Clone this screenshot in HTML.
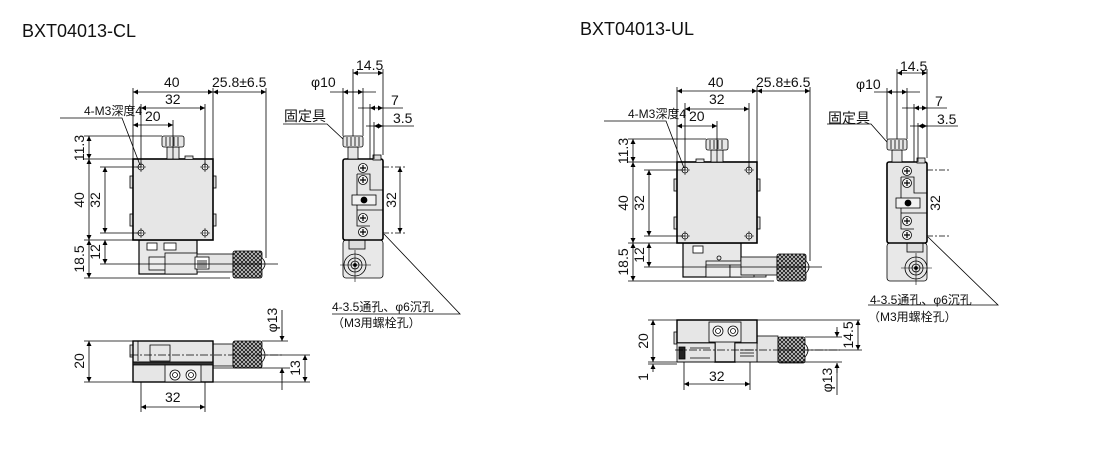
<!DOCTYPE html>
<html><head><meta charset="utf-8"><style>
html,body{margin:0;padding:0;background:#fff;}
svg{display:block;}
text{font-family:"Liberation Sans","Noto Sans CJK JP",sans-serif;fill:#111;}
.d{font-size:14px;}
.t{font-size:18px;}
</style></head><body>
<svg width="1101" height="476" viewBox="0 0 1101 476" xmlns="http://www.w3.org/2000/svg">
<defs>
<marker id="a" viewBox="0 0 10 10" refX="10" refY="5" markerWidth="7" markerHeight="5" orient="auto-start-reverse" markerUnits="userSpaceOnUse"><path d="M0,0 L10,5 L0,10z" fill="#000"/></marker>
<pattern id="k" width="4" height="4" patternUnits="userSpaceOnUse"><rect width="4" height="4" fill="#ddd"/><path d="M0,0L4,4M4,0L0,4" stroke="#222" stroke-width="1"/></pattern>
</defs>
<text class="t" x="22" y="37">BXT04013-CL</text>
<text class="t" x="580" y="35">BXT04013-UL</text>

<g id="L" stroke="#000" fill="none" stroke-width="0.8">
 <rect x="139" y="240" width="58" height="34" fill="#e8e8e8" stroke-width="1.2"/>
 <rect x="147" y="243" width="10" height="7" fill="#fff"/><rect x="164" y="243" width="12" height="7" fill="#fff"/>
 <rect x="149" y="257" width="21" height="13" fill="#eee"/>
 <rect x="165" y="253" width="32" height="21" fill="#e8e8e8"/>
 <rect x="197" y="254" width="36" height="18" fill="#e4e4e4"/>
 <rect x="195" y="257" width="14" height="12" fill="#fff"/>
 <path d="M198,260v8M200,260v8M202,260v8M204,260v8M206,260v8" />
 <rect x="233" y="251" width="29" height="27" fill="url(#k)" rx="2"/>
 <path d="M262,258 q6,6 0,12" fill="#eee"/>
 <rect x="130" y="176" width="4" height="12" fill="#ddd"/><rect x="130" y="214" width="4" height="12" fill="#ddd"/>
 <rect x="212" y="176" width="4" height="12" fill="#ddd"/><rect x="212" y="214" width="4" height="12" fill="#ddd"/>
 <rect x="133" y="159" width="80" height="81" fill="#e6e6e6" stroke-width="1.6"/>
 <rect x="167" y="147" width="12" height="12" fill="#e6e6e6"/>
 <rect x="162" y="136" width="22" height="11" rx="2" fill="#e6e6e6"/>
 <path d="M166,137v9M170,137v9M174,137v9M178,137v9"/>
 <path d="M185,159 v-3 h8 v3" fill="#ddd"/>
 <g fill="#fff"><circle cx="141" cy="167" r="3"/><circle cx="205" cy="167" r="3"/><circle cx="141" cy="233" r="3"/><circle cx="205" cy="233" r="3"/></g>
 <path d="M136,167h10M141,162v10M200,167h10M205,162v10M136,233h10M141,228v10M200,233h10M205,228v10" stroke-width="0.6"/>
 <path d="M133,159V88M213,159V88M266,258V88M141,167V104M205,167V104M173,159V120"/>
 <line x1="133" y1="92" x2="213" y2="92" marker-start="url(#a)" marker-end="url(#a)"/>
 <line x1="213" y1="92" x2="266" y2="92" marker-start="url(#a)" marker-end="url(#a)"/>
 <line x1="141" y1="108" x2="205" y2="108" marker-start="url(#a)" marker-end="url(#a)"/>
 <line x1="133" y1="125" x2="173" y2="125" marker-start="url(#a)" marker-end="url(#a)"/>
 <path d="M84,136H162M84,159H133M84,240H133M100,167H141M100,233H141M84,278H230M100,264H150M140,264H278"/>
 <line x1="89" y1="136" x2="89" y2="159" marker-start="url(#a)" marker-end="url(#a)"/>
 <line x1="89" y1="159" x2="89" y2="240" marker-start="url(#a)" marker-end="url(#a)"/>
 <line x1="89" y1="240" x2="89" y2="278" marker-start="url(#a)" marker-end="url(#a)"/>
 <line x1="105" y1="167" x2="105" y2="233" marker-start="url(#a)" marker-end="url(#a)"/>
 <line x1="105" y1="240" x2="105" y2="264" marker-start="url(#a)" marker-end="url(#a)"/>
 <path d="M60,118H122L140,165"/>
 <rect x="343" y="240" width="40" height="38" rx="3" fill="#e8e8e8"/>
 <rect x="349" y="240" width="16" height="9" fill="#ddd"/>
 <circle cx="355" cy="265" r="11" fill="#e6e6e6"/><circle cx="355" cy="265" r="7"/><circle cx="355" cy="265" r="4"/><circle cx="355" cy="265" r="1.5" fill="#000"/>
 <path d="M340,265H371M355,250V282" stroke-width="0.6"/>
 <rect x="343" y="159" width="40" height="81" rx="2" fill="#e6e6e6" stroke-width="1.6"/>
 <path d="M357,174H370V190H383M357,174V210H383M357,210V226H370" />
 <rect x="352" y="195" width="24" height="10" fill="#f2f2f2"/><circle cx="364" cy="200" r="3" fill="#000"/>
 <g fill="#f4f4f4"><circle cx="363" cy="168" r="4.5"/><circle cx="363" cy="180" r="4.5"/><circle cx="363" cy="218" r="4.5"/><circle cx="363" cy="232" r="4.5"/></g>
 <path d="M360,168h6M363,165v6M360,180h6M363,177v6M360,218h6M363,215v6M360,232h6M363,229v6" stroke-width="1.2"/>
 <rect x="373" y="155" width="8" height="5" fill="#ddd"/>
 <rect x="348" y="147" width="10" height="12" fill="#e6e6e6"/>
 <rect x="343" y="136" width="20" height="11" rx="2" fill="#e6e6e6"/>
 <path d="M347,137v9M351,137v9M355,137v9M359,137v9"/>
 <path d="M383,167h24M383,233h24" stroke-dasharray="6 2 2 2"/>
 <line x1="400" y1="167" x2="400" y2="233" marker-start="url(#a)" marker-end="url(#a)"/>
 <path d="M353,136V69M383,155V69M343,136V88M363,136V88M370,159V104M374,159V122"/>
 <line x1="353" y1="73" x2="383" y2="73" marker-start="url(#a)" marker-end="url(#a)"/>
 <path d="M330,92H376"/><line x1="343" y1="92" x2="363" y2="92" marker-start="url(#a)" marker-end="url(#a)"/>
 <path d="M358,108H403"/><line x1="370" y1="108" x2="383" y2="108" marker-start="url(#a)" marker-end="url(#a)"/>
 <path d="M366,126H414"/><line x1="374" y1="126" x2="383" y2="126" marker-start="url(#a)" marker-end="url(#a)"/>
 <path d="M283,124H327L343,139"/>
 <path d="M384,234L460,314H332"/>
 <rect x="130" y="345" width="4" height="12" fill="#ddd"/>
 <rect x="213" y="344" width="20" height="22" fill="#e4e4e4"/>
 <rect x="233" y="341" width="29" height="27" rx="2" fill="url(#k)"/>
 <path d="M262,348 q6,7 0,14" fill="#eee"/>
 <rect x="133" y="341" width="80" height="41" fill="#e6e6e6" stroke-width="1.4"/>
 <path d="M138,341V361M150,345h20v16h-20zM133,362H213" />
 <rect x="133" y="362" width="80" height="3" fill="#333"/>
 <rect x="165" y="365" width="36" height="17" fill="#eee"/>
 <circle cx="175" cy="375" r="5" fill="#fff"/><circle cx="175" cy="375" r="2.5"/>
 <circle cx="191" cy="375" r="5" fill="#fff"/><circle cx="191" cy="375" r="2.5"/>
 <path d="M130,355H282" stroke-dasharray="8 2 2 2"/>
 <path d="M84,341H133M84,382H310M213,368H290M262,355H310M262,341H288M141,382V412M205,382V412M282,310V341M282,368V390" />
 <line x1="89" y1="341" x2="89" y2="382" marker-start="url(#a)" marker-end="url(#a)"/>
 <line x1="141" y1="407" x2="205" y2="407" marker-start="url(#a)" marker-end="url(#a)"/>
 <line x1="282" y1="330" x2="282" y2="341" marker-end="url(#a)"/>
 <line x1="282" y1="380" x2="282" y2="368" marker-end="url(#a)"/>
 <line x1="305" y1="355" x2="305" y2="382" marker-start="url(#a)" marker-end="url(#a)"/>
</g>
<g class="d">
 <text x="164" y="87">40</text><text x="212" y="87">25.8±6.5</text>
 <text x="165" y="104">32</text><text x="145" y="121">20</text>
 <text x="84" y="115" font-size="12">4-M3深度4</text>
 <text transform="translate(84,148) rotate(-90)" text-anchor="middle">11.3</text>
 <text transform="translate(84,200) rotate(-90)" text-anchor="middle">40</text>
 <text transform="translate(100,200) rotate(-90)" text-anchor="middle">32</text>
 <text transform="translate(84,259) rotate(-90)" text-anchor="middle">18.5</text>
 <text transform="translate(100,252) rotate(-90)" text-anchor="middle">12</text>
 <text x="356" y="70">14.5</text><text x="311" y="87">φ10</text>
 <text x="391" y="105">7</text><text x="393" y="123">3.5</text>
 <text x="284" y="121">固定具</text>
 <text transform="translate(396,200) rotate(-90)" text-anchor="middle">32</text>
 <text x="332" y="311" font-size="12">4-3.5通孔、φ6沉孔</text>
 <text x="332" y="327" font-size="12">（M3用螺栓孔）</text>
 <text transform="translate(84,361) rotate(-90)" text-anchor="middle">20</text>
 <text x="165" y="402">32</text>
 <text transform="translate(277,320) rotate(-90)" text-anchor="middle">φ13</text>
 <text transform="translate(300,368) rotate(-90)" text-anchor="middle">13</text>
</g>

<g stroke="#000" fill="none" stroke-width="0.8" transform="translate(544,3)">
 <rect x="139" y="240" width="58" height="34" fill="#e8e8e8" stroke-width="1.2"/>
 <rect x="149" y="243" width="10" height="7" fill="#fff"/>
 <rect x="162" y="258" width="60" height="16" fill="#e8e8e8"/>
 <rect x="162" y="262" width="24" height="12" fill="#eee"/><rect x="186" y="262" width="24" height="12" fill="#eee"/>
 <circle cx="175" cy="255" r="2"/>
 <rect x="197" y="254" width="36" height="18" fill="#e4e4e4"/>
 <rect x="233" y="251" width="29" height="27" fill="url(#k)" rx="2"/>
 <path d="M262,258 q6,6 0,12" fill="#eee"/>
 <rect x="130" y="176" width="4" height="12" fill="#ddd"/><rect x="130" y="214" width="4" height="12" fill="#ddd"/>
 <rect x="212" y="176" width="4" height="12" fill="#ddd"/><rect x="212" y="214" width="4" height="12" fill="#ddd"/>
 <rect x="133" y="159" width="80" height="81" fill="#e6e6e6" stroke-width="1.6"/>
 <rect x="167" y="147" width="12" height="12" fill="#e6e6e6"/>
 <rect x="162" y="136" width="22" height="11" rx="2" fill="#e6e6e6"/>
 <path d="M166,137v9M170,137v9M174,137v9M178,137v9"/>
 <path d="M152,159 v-3 h8 v3" fill="#ddd"/>
 <g fill="#fff"><circle cx="141" cy="167" r="3"/><circle cx="205" cy="167" r="3"/><circle cx="141" cy="233" r="3"/><circle cx="205" cy="233" r="3"/></g>
 <path d="M136,167h10M141,162v10M200,167h10M205,162v10M136,233h10M141,228v10M200,233h10M205,228v10" stroke-width="0.6"/>
 <path d="M133,159V84M213,159V84M266,258V84M141,167V100M205,167V100M173,159V118"/>
 <line x1="133" y1="88" x2="213" y2="88" marker-start="url(#a)" marker-end="url(#a)"/>
 <line x1="213" y1="88" x2="266" y2="88" marker-start="url(#a)" marker-end="url(#a)"/>
 <line x1="141" y1="106" x2="205" y2="106" marker-start="url(#a)" marker-end="url(#a)"/>
 <line x1="133" y1="123" x2="173" y2="123" marker-start="url(#a)" marker-end="url(#a)"/>
 <path d="M84,136H162M84,159H133M84,240H133M100,167H141M100,233H141M84,278H230M100,264H150M140,264H278"/>
 <line x1="89" y1="136" x2="89" y2="159" marker-start="url(#a)" marker-end="url(#a)"/>
 <line x1="89" y1="159" x2="89" y2="240" marker-start="url(#a)" marker-end="url(#a)"/>
 <line x1="89" y1="240" x2="89" y2="278" marker-start="url(#a)" marker-end="url(#a)"/>
 <line x1="105" y1="167" x2="105" y2="233" marker-start="url(#a)" marker-end="url(#a)"/>
 <line x1="105" y1="240" x2="105" y2="264" marker-start="url(#a)" marker-end="url(#a)"/>
 <path d="M60,118H122L140,165"/>
 <rect x="343" y="240" width="40" height="38" rx="3" fill="#e8e8e8"/>
 <rect x="363" y="240" width="16" height="9" fill="#ddd"/>
 <circle cx="372" cy="265" r="11" fill="#e6e6e6"/><circle cx="372" cy="265" r="7"/><circle cx="372" cy="265" r="4"/><circle cx="372" cy="265" r="1.5" fill="#000"/>
 <path d="M357,265H388M372,250V282" stroke-width="0.6"/>
 <rect x="343" y="159" width="40" height="81" rx="2" fill="#e6e6e6" stroke-width="1.6"/>
 <path d="M357,174H370V190H383M357,174V210H383M357,210V226H370" />
 <rect x="352" y="195" width="24" height="10" fill="#f2f2f2"/><circle cx="364" cy="200" r="3" fill="#000"/>
 <g fill="#f4f4f4"><circle cx="363" cy="168" r="4.5"/><circle cx="363" cy="180" r="4.5"/><circle cx="363" cy="218" r="4.5"/><circle cx="363" cy="232" r="4.5"/></g>
 <path d="M360,168h6M363,165v6M360,180h6M363,177v6M360,218h6M363,215v6M360,232h6M363,229v6" stroke-width="1.2"/>
 <rect x="373" y="155" width="8" height="5" fill="#ddd"/>
 <rect x="348" y="147" width="10" height="12" fill="#e6e6e6"/>
 <rect x="343" y="136" width="20" height="11" rx="2" fill="#e6e6e6"/>
 <path d="M347,137v9M351,137v9M355,137v9M359,137v9"/>
 <path d="M383,167h24M383,233h24" stroke-dasharray="6 2 2 2"/>
 <path d="M353,136V66M383,155V66M343,136V85M363,136V85M370,159V101M374,159V120"/>
 <line x1="353" y1="70" x2="383" y2="70" marker-start="url(#a)" marker-end="url(#a)"/>
 <path d="M330,89H376"/><line x1="343" y1="89" x2="363" y2="89" marker-start="url(#a)" marker-end="url(#a)"/>
 <path d="M358,105H403"/><line x1="370" y1="105" x2="383" y2="105" marker-start="url(#a)" marker-end="url(#a)"/>
 <path d="M366,123H414"/><line x1="374" y1="123" x2="383" y2="123" marker-start="url(#a)" marker-end="url(#a)"/>
 <path d="M283,121H327L343,139"/>
 <path d="M384,234L454,302H324"/>
</g>
<g stroke="#000" fill="none" stroke-width="0.8">
 <rect x="674" y="332" width="4" height="12" fill="#ddd"/>
 <rect x="757" y="336" width="21" height="26" fill="#e4e4e4"/>
 <rect x="778" y="337" width="27" height="26" rx="2" fill="url(#k)"/>
 <path d="M805,344 q6,6 0,13" fill="#eee"/>
 <path d="M677,320H757V343H735V362H715V343H677Z" fill="#e6e6e6" stroke-width="1.4"/>
 <rect x="677" y="343" width="38" height="19" fill="#e6e6e6"/>
 <rect x="735" y="343" width="22" height="19" fill="#e6e6e6"/>
 <rect x="679" y="347" width="6" height="12" fill="#222"/>
 <path d="M690,348h20M690,358h20M740,350h14M740,353h14M740,356h14"/>
 <rect x="709" y="322" width="32" height="20" fill="#eee"/>
 <circle cx="718" cy="331" r="5" fill="#fff"/><circle cx="718" cy="331" r="2.5"/>
 <circle cx="733" cy="331" r="5" fill="#fff"/><circle cx="733" cy="331" r="2.5"/>
 <path d="M675,350H840" stroke-dasharray="8 2 2 2"/>
 <path d="M648,320H860M648,362H842M648,364H677M684,362V390M750,362V390M805,337H842M837,330V337M837,363V395"/>
 <line x1="653" y1="320" x2="653" y2="362" marker-start="url(#a)" marker-end="url(#a)"/>
 <line x1="653" y1="372" x2="653" y2="364" marker-end="url(#a)"/>
 <line x1="684" y1="384" x2="750" y2="384" marker-start="url(#a)" marker-end="url(#a)"/>
 <line x1="858" y1="320" x2="858" y2="350" marker-start="url(#a)" marker-end="url(#a)"/>
 <path d="M805,350H862"/>
 <line x1="837" y1="327" x2="837" y2="337" marker-end="url(#a)"/>
 <line x1="837" y1="373" x2="837" y2="363" marker-end="url(#a)"/>
</g>
<g class="d">
 <text x="708" y="87">40</text><text x="756" y="87">25.8±6.5</text>
 <text x="709" y="104">32</text><text x="689" y="121">20</text>
 <text x="628" y="118" font-size="12">4-M3深度4</text>
 <text transform="translate(628,151) rotate(-90)" text-anchor="middle">11.3</text>
 <text transform="translate(628,203) rotate(-90)" text-anchor="middle">40</text>
 <text transform="translate(644,203) rotate(-90)" text-anchor="middle">32</text>
 <text transform="translate(628,262) rotate(-90)" text-anchor="middle">18.5</text>
 <text transform="translate(644,255) rotate(-90)" text-anchor="middle">12</text>
 <text x="900" y="71">14.5</text><text x="856" y="89">φ10</text>
 <text x="935" y="106">7</text><text x="937" y="124">3.5</text>
 <text x="828" y="123">固定具</text>
 <text transform="translate(940,203) rotate(-90)" text-anchor="middle">32</text>
 <text x="870" y="304" font-size="12">4-3.5通孔、φ6沉孔</text>
 <text x="868" y="321" font-size="12">（M3用螺栓孔）</text>
 <text transform="translate(648,341) rotate(-90)" text-anchor="middle">20</text>
 <text transform="translate(648,377) rotate(-90)" text-anchor="middle">1</text>
 <text x="709" y="381">32</text>
 <text transform="translate(853,335) rotate(-90)" text-anchor="middle">14.5</text>
 <text transform="translate(832,380) rotate(-90)" text-anchor="middle">φ13</text>
</g>
</svg>
</body></html>
